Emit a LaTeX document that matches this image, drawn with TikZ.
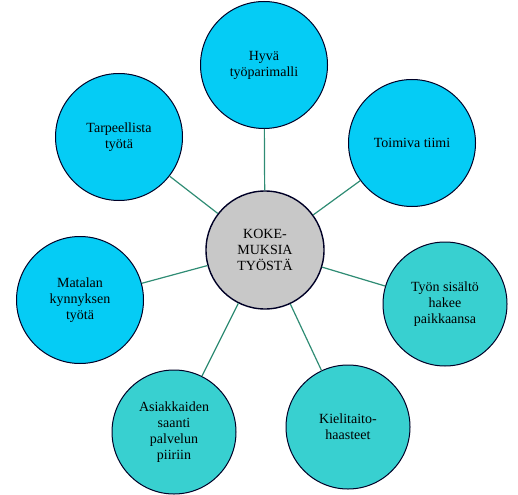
\documentclass[tikz,border=0pt]{standalone}
\usepackage{fontspec}
\setmainfont{Liberation Serif}
\definecolor{skyball}{HTML}{05CCF5}
\definecolor{tealball}{HTML}{38D0D0}
\definecolor{hubgray}{HTML}{C8C8C8}
\definecolor{spoke}{HTML}{2F8C74}
\begin{document}
\begin{tikzpicture}
  [x=1pt,y=-1pt,every node/.style={circle,draw=black!85!blue,line width=1pt,align=center,
     font=\fontsize{14}{16}\selectfont,inner sep=0pt}]
  \tikzstyle{sky} = [fill=skyball,minimum size=127pt]
  \tikzstyle{teal} = [fill=tealball,minimum size=124pt]
  \tikzstyle{hub} = [fill=hubgray,minimum size=118pt,line width=1.4pt]
  \useasboundingbox (0,0) rectangle (518,494);
  \node[hub] (koke) at (265,250) {KOKE-\\MUKSIA\\TYÖSTÄ};
  \node[sky] (hyva) at (264,65)  {Hyvä\\työparimalli};
  \node[sky] (tarp) at (119,137) {Tarpeellista\\työtä};
  \node[sky] (toim) at (412,143) {Toimiva tiimi};
  \node[sky] (mata) at (80,300)  {Matalan\\kynnyksen\\työtä};
  \node[teal] (tyon) at (445,304) {Työn sisältö\\hakee\\paikkaansa};
  \node[teal] (asia) at (174,432) {Asiakkaiden\\saanti\\palvelun\\piiriin};
  \node[teal] (kiel) at (348,427) {Kielitaito-\\haasteet};
  \foreach \dest in {hyva,tarp,toim,mata,tyon,asia,kiel}
   \draw[spoke,line width=1.2pt] (koke) -- (\dest);
\end{tikzpicture}
\end{document}
